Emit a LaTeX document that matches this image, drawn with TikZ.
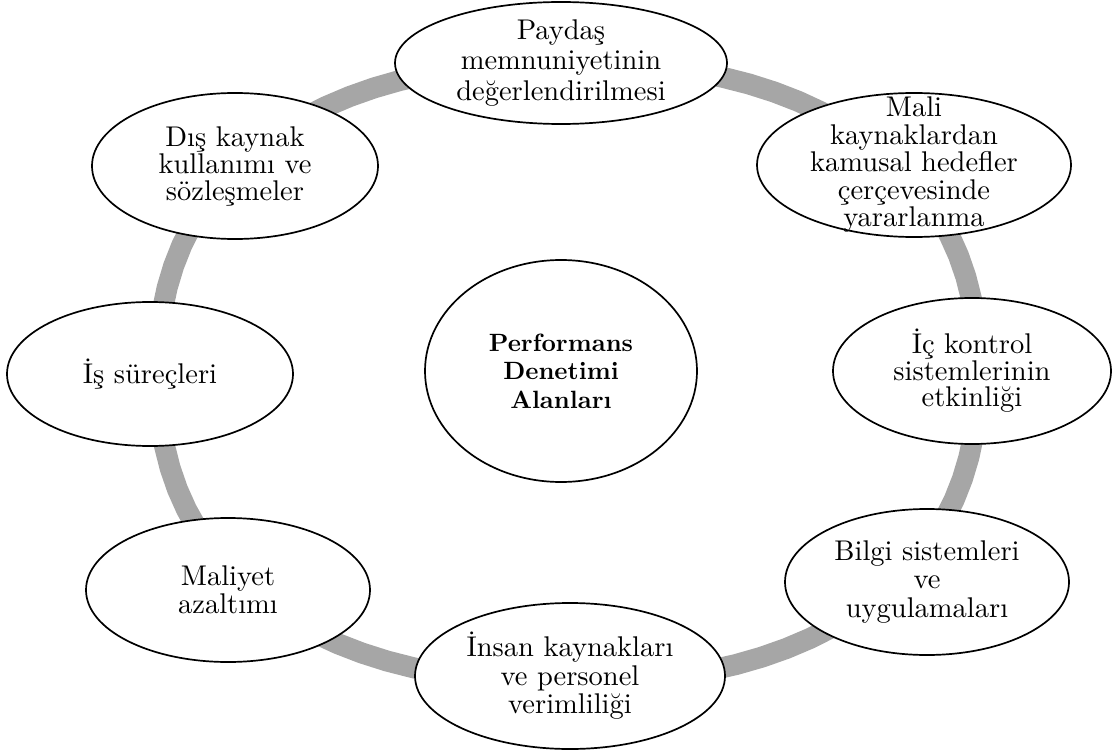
\documentclass[tikz,border=0pt]{standalone}
\usepackage{fontspec}
\setmainfont{lmroman10-regular}[Extension=.otf, BoldFont=lmroman10-bold]
\usetikzlibrary{shapes.geometric}
\definecolor{ringgray}{RGB}{166,166,166}
\tikzset{
  area/.style={ellipse, draw=black, line width=1.7pt, fill=white, inner sep=0pt},
  areatext/.style={align=center, inner sep=0pt, font=\fontsize{28.5}{28.5}\selectfont},
  hubtext/.style={align=center, inner sep=0pt, font=\fontsize{25}{28.5}\selectfont\bfseries},
  ringline/.style={draw=ringgray, line width=21pt}
}
\begin{document}
\begin{tikzpicture}[x=1pt,y=-1pt]
\useasboundingbox (0,0) rectangle (1118,754);
% grey ring behind the areas
\draw[ringline] plot[domain=1:361, samples=91, variable=\t]
  ({568+410*sign(cos(\t))*pow(abs(cos(\t)),0.8696)},
   {372.5+310*sign(sin(\t))*pow(abs(sin(\t)),0.8696)}) -- cycle;
% area ellipses
\node[area, minimum width=332pt, minimum height=122pt] (top) at (561,63) {};
\node[area, minimum width=314pt, minimum height=144pt] (mali) at (914,165) {};
\node[area, minimum width=278pt, minimum height=146pt] (ic) at (972,371) {};
\node[area, minimum width=284pt, minimum height=146pt] (bilgi) at (927,582) {};
\node[area, minimum width=310pt, minimum height=146pt] (insan) at (570,676) {};
\node[area, minimum width=284pt, minimum height=144pt] (maliyet) at (228,590) {};
\node[area, minimum width=286pt, minimum height=144pt] (is) at (150,374) {};
\node[area, minimum width=286pt, minimum height=146pt] (dis) at (235,166) {};
\node[area, minimum width=272pt, minimum height=222pt] (hub) at (561,371) {};
% texts
\node[areatext, font=\fontsize{28.5}{30.5}\selectfont] (topt) at (top) {Paydaş\\memnuniyetinin\\değerlendirilmesi};
\node[areatext, font=\fontsize{28.5}{27.5}\selectfont] (malit) at (mali) {Mali\\kaynaklardan\\kamusal hedefler\\çerçevesinde\\yararlanma};
\node[areatext, font=\fontsize{28.5}{26.5}\selectfont] (ict) at (ic) {İç kontrol\\sistemlerinin\\etkinliği};
\node[areatext] (bilgit) at (bilgi) {Bilgi sistemleri\\ve\\uygulamaları};
\node[areatext] (insant) at (insan) {İnsan kaynakları\\ve personel\\verimliliği};
\node[areatext] (maliyett) at (maliyet) {Maliyet\\azaltımı};
\node[areatext] (ist) at (is) {İş süreçleri};
\node[areatext, font=\fontsize{28.5}{27}\selectfont] (dist) at (dis) {Dış kaynak\\kullanımı ve\\sözleşmeler};
\node[hubtext] (hubt) at (hub) {Performans\\Denetimi\\Alanları};
\end{tikzpicture}
\end{document}
